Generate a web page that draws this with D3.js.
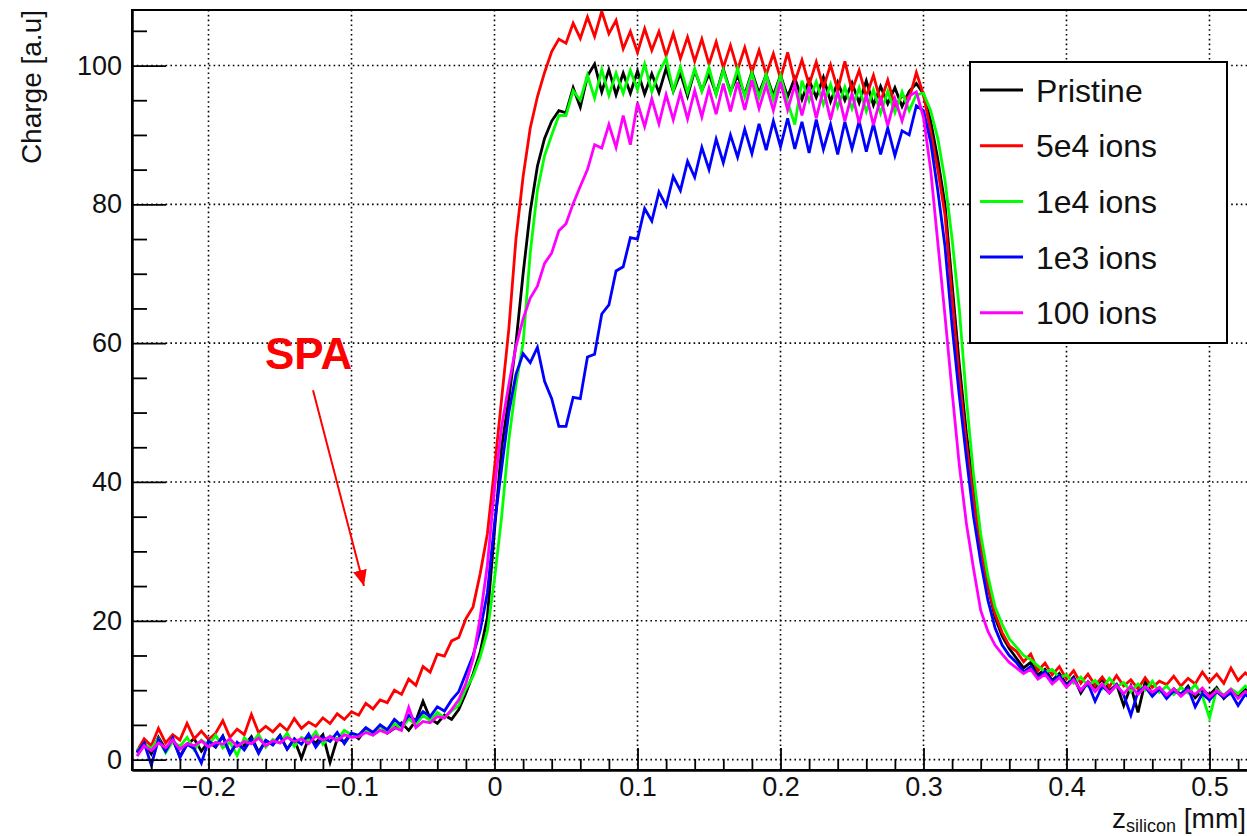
<!DOCTYPE html>
<html>
<head>
<meta charset="utf-8">
<script src="https://d3js.org/d3.v7.min.js"></script>
<style>
  body { margin: 0; background: #fff; }
  svg { display: block; font-family: "Liberation Sans", Arial, Helvetica, sans-serif; }
</style>
</head>
<body>
<div class="container"></div>
<script>
const w = 1247;
const h = 836;

// bin centres [mm]
const zBins = [
  -0.25,-0.245,-0.24,-0.235,-0.23,-0.225,-0.22,-0.215,-0.21,-0.205,
  -0.2,-0.195,-0.19,-0.185,-0.18,-0.175,-0.17,-0.165,-0.16,-0.155,
  -0.15,-0.145,-0.14,-0.135,-0.13,-0.125,-0.12,-0.115,-0.11,-0.105,
  -0.1,-0.095,-0.09,-0.085,-0.08,-0.075,-0.07,-0.065,-0.06,-0.055,
  -0.05,-0.045,-0.04,-0.035,-0.03,-0.025,-0.02,-0.015,-0.01,-0.005,
  0,0.005,0.01,0.015,0.02,0.025,0.03,0.035,0.04,0.045,
  0.05,0.055,0.06,0.065,0.07,0.075,0.08,0.085,0.09,0.095,
  0.1,0.105,0.11,0.115,0.12,0.125,0.13,0.135,0.14,0.145,
  0.15,0.155,0.16,0.165,0.17,0.175,0.18,0.185,0.19,0.195,
  0.2,0.205,0.21,0.215,0.22,0.225,0.23,0.235,0.24,0.245,
  0.25,0.255,0.26,0.265,0.27,0.275,0.28,0.285,0.29,0.295,
  0.3,0.305,0.31,0.315,0.32,0.325,0.33,0.335,0.34,0.345,
  0.35,0.355,0.36,0.365,0.37,0.375,0.38,0.385,0.39,0.395,
  0.4,0.405,0.41,0.415,0.42,0.425,0.43,0.435,0.44,0.445,
  0.45,0.455,0.46,0.465,0.47,0.475,0.48,0.485,0.49,0.495,
  0.5,0.505,0.51,0.515,0.52,0.525,0.53
];

const pristine = [
  1.0,2.5,0.8,3.2,1.5,2.9,0.5,2.2,3.0,1.2,
  2.6,1.8,3.4,0.9,2.4,2.0,3.3,1.1,2.7,2.2,
  3.5,1.5,2.9,0.2,3.1,2.4,3.6,-0.4,3.0,2.6,
  3.8,3.0,4.4,3.6,4.9,3.8,4.5,5.3,4.2,5.6,
  8.4,5.9,5.2,6.4,5.8,7.2,9.6,12.3,15.5,20.5,
  33,45,52,60,70,79,85.5,89.5,92,93.5,
  93.2,96.8,94.0,98.5,100.2,96.2,99.4,95.8,98.9,96.0,
  99.2,95.9,98.8,96.1,99.6,96.3,98.9,95.6,99.3,96.4,
  98.8,95.9,99.5,96.2,98.6,95.8,99.1,96.0,98.7,95.7,
  98.6,95.5,98.2,95.1,97.9,95.4,98.3,94.8,97.6,95.0,
  97.5,94.6,97.8,94.3,97.0,94.5,96.8,94.1,96.3,97.4,
  95.9,92.0,86.5,80.0,68.5,57.0,47.0,39.0,31.0,25.0,
  20.5,17.8,16.0,14.6,13.2,14.0,12.2,13.0,11.4,12.4,
  10.8,11.9,9.6,11.2,10.4,11.6,9.9,10.8,7.8,10.6,
  6.8,11.2,9.5,10.3,9.1,10.2,9.4,10.6,8.9,10.0,
  9.3,10.4,8.8,9.9,9.2,10.1,9.0
];

const ions5e4 = [
  1.2,3.0,2.0,4.5,2.4,3.6,2.8,5.2,3.0,4.1,
  2.9,3.8,5.6,3.2,4.4,3.6,6.5,3.9,4.8,4.0,
  5.1,4.2,5.9,4.5,5.4,4.8,6.0,5.2,6.6,5.8,
  6.9,6.4,8.1,7.3,8.6,8.2,10.0,9.4,11.6,10.7,
  13.4,12.6,15.2,14.9,17.1,17.6,20.3,22.0,26.8,32.5,
  42,52,62,75,84,91,95.5,99,102,103.8,
  103.2,106.1,103.9,107.0,104.2,107.8,104.6,106.5,102.4,104.9,
  101.9,105.3,102.2,104.9,101.4,104.6,101.0,104.1,100.6,103.8,
  100.2,103.4,99.7,102.9,99.4,102.6,99.0,102.2,98.7,101.7,
  98.1,101.9,97.6,100.8,97.2,100.5,96.8,100.1,96.5,100.6,
  96.4,99.3,95.5,98.6,94.8,97.9,94.1,95.6,95.2,99.0,
  95.8,90.5,85.0,78.5,66.5,55.0,45.5,37.5,30.5,25.0,
  21.0,18.3,16.4,15.6,14.1,15.2,12.8,13.9,12.2,13.4,
  11.6,12.8,11.0,12.3,10.7,11.9,10.5,12.1,10.6,11.5,
  10.2,11.8,10.4,11.3,10.8,12.0,10.6,11.7,10.9,12.6,
  11.2,12.3,11.0,13.2,11.4,12.5,11.6
];

const ions1e4 = [
  1.3,2.2,1.6,3.0,1.0,2.6,1.9,3.2,1.4,2.8,
  2.1,3.5,1.7,2.5,0.6,3.1,2.3,3.6,1.8,2.9,
  2.4,3.8,1.9,3.2,2.7,4.0,2.2,3.4,2.9,4.2,
  3.6,3.3,4.2,3.6,4.8,4.1,5.2,4.5,5.9,5.0,
  6.4,5.6,6.8,6.0,7.0,7.8,10.2,12.0,14.8,18.5,
  26,35,46,54,60,73,82,87,90,92.8,
  92.8,96.4,95.0,98.6,95.3,99.4,95.7,98.9,96.0,99.3,
  96.5,100.2,96.2,99.0,101.0,96.4,99.8,96.1,99.5,96.3,
  99.7,95.8,99.3,96.0,99.6,95.5,98.9,95.4,98.7,95.1,
  98.5,94.7,91.5,97.8,94.9,97.7,94.4,97.3,94.0,96.9,
  93.8,96.8,93.4,96.5,93.1,96.3,93.2,96.2,93.5,95.8,
  96.0,93.5,89.5,83.5,75.0,65.0,52.0,41.0,32.5,26.5,
  22.0,19.5,17.4,16.2,15.0,14.4,13.5,12.6,13.0,11.8,
  12.2,11.0,11.9,10.6,11.4,10.2,11.7,10.5,11.1,9.8,
  10.9,10.0,11.3,9.7,10.6,9.4,10.4,9.6,10.8,9.2,
  6.0,10.1,9.3,10.2,9.5,10.6,9.8
];

const ions1e3 = [
  1.0,2.4,-0.8,2.9,1.2,3.1,0.3,2.2,1.6,-0.5,
  2.7,1.9,3.3,0.8,2.5,1.4,3.0,0.9,2.8,2.1,
  3.4,1.5,3.0,2.2,3.7,1.8,3.2,2.6,3.9,2.3,
  3.8,3.5,4.6,3.9,5.0,4.3,5.8,4.9,6.4,5.6,
  6.9,6.2,7.6,7.0,8.6,9.8,12.4,15.0,18.6,24.0,
  34,42,50,55.5,58.5,57.2,59.4,54.5,52.0,48.0,
  48.0,52.2,52.0,58.0,58.4,64.2,65.5,70.4,71.0,75.2,
  75.0,79.4,77.6,81.8,79.8,84.0,82.0,86.2,83.9,88.2,
  85.0,89.4,86.0,90.0,86.8,90.8,87.3,91.6,87.8,92.0,
  88.3,92.4,88.0,91.9,87.4,92.2,87.9,91.5,87.2,91.9,
  88.0,92.0,87.6,91.6,87.2,91.0,87.0,90.6,90.0,94.2,
  93.5,89.0,82.0,74.0,62.5,52.5,43.5,35.0,28.5,23.0,
  19.0,16.5,15.0,14.0,12.6,13.4,11.8,12.7,11.2,12.1,
  10.6,11.7,9.9,11.0,8.4,10.6,9.6,10.8,9.3,6.4,
  9.8,10.5,9.1,10.2,8.8,9.9,9.4,10.3,7.6,9.5,
  8.6,9.8,8.9,9.6,7.8,9.4,8.5
];

const ions100 = [
  0.5,2.0,1.3,2.4,1.7,2.8,1.5,2.3,2.0,2.7,
  1.8,2.5,2.2,3.0,1.9,2.6,2.3,3.1,2.0,2.7,
  2.4,3.2,2.6,3.0,2.3,3.4,2.8,3.3,2.7,3.6,
  3.2,3.3,3.9,3.5,4.2,3.8,4.6,4.2,7.5,4.6,
  5.5,5.3,6.2,6.0,7.2,8.6,11.0,14.5,20.5,28.0,
  39,48,54,59.5,63.5,66.5,68.2,71.5,73.0,76.2,
  77.2,80.1,82.6,85.0,88.6,88.1,91.5,88.2,92.8,88.6,
  94.6,91.2,95.2,91.6,95.8,92.2,96.1,92.3,96.4,92.6,
  96.7,93.0,97.4,93.4,97.6,93.6,97.9,93.8,97.2,93.5,
  97.6,93.6,97.2,92.8,97.0,92.4,96.6,92.2,96.3,92.0,
  96.0,91.7,95.8,91.4,95.4,91.3,95.2,92.0,95.6,96.2,
  92.5,85.0,74.5,64.0,53.0,42.5,34.0,27.5,21.5,18.5,
  16.5,15.2,14.0,13.2,12.4,13.0,11.6,12.3,10.9,11.8,
  10.4,11.5,10.0,11.2,9.8,10.9,9.6,10.7,9.5,10.6,
  9.4,10.5,9.7,10.4,9.3,10.2,9.1,10.0,9.4,10.3,
  9.0,9.9,9.2,10.1,8.8,9.8,9.1
];

const seriesNames = ["Pristine", "5e4 ions", "1e4 ions", "1e3 ions", "100 ions"];
const seriesColors = ["#000000", "#ff0000", "#00ff00", "#0000ff", "#ff00ff"];
const seriesValues = [pristine, ions5e4, ions1e4, ions1e3, ions100];

const xTicks = [-0.2, -0.1, 0, 0.1, 0.2, 0.3, 0.4, 0.5];
const yTicks = [0, 20, 40, 60, 80, 100];

const frame = {left: 132, top: 10, right: 1281, bottom: 770};

const svg = d3.select(".container")
  .append("svg")
  .attr("width", w)
  .attr("height", h);

const xScale = d3.scaleLinear().domain([-0.2535, 0.55]).range([frame.left, frame.right]);
const yScale = d3.scaleLinear().domain([-1.5, 108]).range([frame.bottom, frame.top]);

svg.append("defs").append("clipPath")
  .attr("id", "plotclip")
  .append("rect")
  .attr("x", frame.left).attr("y", frame.top)
  .attr("width", frame.right - frame.left).attr("height", frame.bottom - frame.top);

// dotted grid
const grid = svg.append("g").attr("stroke", "#000").attr("stroke-width", 1.6)
  .attr("stroke-dasharray", "1.6,3.2");
grid.selectAll(".gx").data(xTicks).enter().append("line")
  .attr("x1", d => xScale(d)).attr("x2", d => xScale(d))
  .attr("y1", frame.top).attr("y2", frame.bottom);
grid.selectAll(".gy").data(yTicks).enter().append("line")
  .attr("y1", d => yScale(d)).attr("y2", d => yScale(d))
  .attr("x1", frame.left).attr("x2", frame.right);

// data
const line = d3.line()
  .x((d, i) => xScale(zBins[i]))
  .y(d => yScale(d));

const curves = svg.append("g").attr("clip-path", "url(#plotclip)");
seriesValues.forEach((vals, k) => {
  curves.append("path")
    .datum(vals)
    .attr("fill", "none")
    .attr("stroke", seriesColors[k])
    .attr("stroke-width", 2.8)
    .attr("stroke-linejoin", "miter")
    .attr("d", line);
});

// frame
svg.append("rect")
  .attr("x", frame.left).attr("y", frame.top)
  .attr("width", frame.right - frame.left).attr("height", frame.bottom - frame.top)
  .attr("fill", "none").attr("stroke", "#000").attr("stroke-width", 2);

// axes (ROOT style, ticks pointing inwards)
const fmtX = d => d === 0 ? "0" : d3.format(".1f")(d);

const xAxis = d3.axisBottom(xScale).tickValues(xTicks).tickSize(-22).tickSizeOuter(0)
  .tickPadding(7).tickFormat(fmtX);
const xMinor = d3.axisBottom(xScale)
  .tickValues(d3.range(-0.24, 0.55, 0.02).filter(v => Math.abs(v * 10 - Math.round(v * 10)) > 1e-6))
  .tickSize(-11).tickSizeOuter(0).tickFormat("");
const yAxis = d3.axisLeft(yScale).tickValues(yTicks).tickSize(-34).tickSizeOuter(0)
  .tickPadding(10).tickFormat(d3.format("d"));
const yMinor = d3.axisLeft(yScale)
  .tickValues(d3.range(5, 108, 5).filter(v => v % 20 !== 0))
  .tickSize(-15).tickSizeOuter(0).tickFormat("");

function styleAxis(g) {
  g.attr("font-size", 27).attr("font-family", "'Liberation Sans', Arial, Helvetica, sans-serif");
  g.selectAll(".domain").attr("stroke-width", 2);
  g.selectAll(".tick line").attr("stroke-width", 1.8);
  g.selectAll(".tick text").attr("fill", "#111");
}

svg.append("g").attr("transform", "translate(0," + frame.bottom + ")").call(xMinor).call(styleAxis);
svg.append("g").attr("transform", "translate(0," + frame.bottom + ")").call(xAxis).call(styleAxis);
svg.append("g").attr("transform", "translate(" + frame.left + ",0)").call(yMinor).call(styleAxis);
svg.append("g").attr("transform", "translate(" + frame.left + ",0)").call(yAxis).call(styleAxis);

// axis titles
svg.append("text")
  .attr("transform", "translate(41," + frame.top + ") rotate(-90)")
  .attr("text-anchor", "end")
  .attr("font-size", 28)
  .attr("fill", "#111")
  .text("Charge [a.u]");

const xt = svg.append("text")
  .attr("x", 1246).attr("y", 828)
  .attr("text-anchor", "end")
  .attr("font-size", 28)
  .attr("fill", "#111");
xt.append("tspan").text("z");
xt.append("tspan").attr("font-size", 18).attr("dy", 4).text("silicon");
xt.append("tspan").attr("dy", -4).text(" [mm]");

// legend
const legend = svg.append("g");
legend.append("rect")
  .attr("x", 970).attr("y", 62).attr("width", 257).attr("height", 281)
  .attr("fill", "#fff").attr("stroke", "#000").attr("stroke-width", 2);
seriesNames.forEach((name, k) => {
  const cy = 90 + k * 55.7;
  legend.append("line")
    .attr("x1", 980).attr("x2", 1023).attr("y1", cy).attr("y2", cy)
    .attr("stroke", seriesColors[k]).attr("stroke-width", 3);
  legend.append("text")
    .attr("x", 1036).attr("y", cy).attr("dy", "0.36em")
    .attr("font-size", 32).attr("fill", "#111")
    .text(name);
});

// SPA annotation
svg.select("defs").append("marker")
  .attr("id", "arrowhead")
  .attr("markerUnits", "userSpaceOnUse")
  .attr("markerWidth", 17).attr("markerHeight", 14)
  .attr("refX", 16).attr("refY", 7)
  .attr("orient", "auto")
  .append("path").attr("d", "M0,0 L16,7 L0,14 Z").attr("fill", "#ff0000");

svg.append("text")
  .attr("x", xScale(-0.1605)).attr("y", yScale(56.3))
  .attr("font-size", 44).attr("font-weight", "bold").attr("fill", "#ff0000")
  .text("SPA");

svg.append("line")
  .attr("x1", xScale(-0.1269)).attr("y1", yScale(53.2))
  .attr("x2", xScale(-0.0913)).attr("y2", yScale(25.0))
  .attr("stroke", "#ff0000").attr("stroke-width", 2)
  .attr("marker-end", "url(#arrowhead)");
</script>
</body>
</html>
